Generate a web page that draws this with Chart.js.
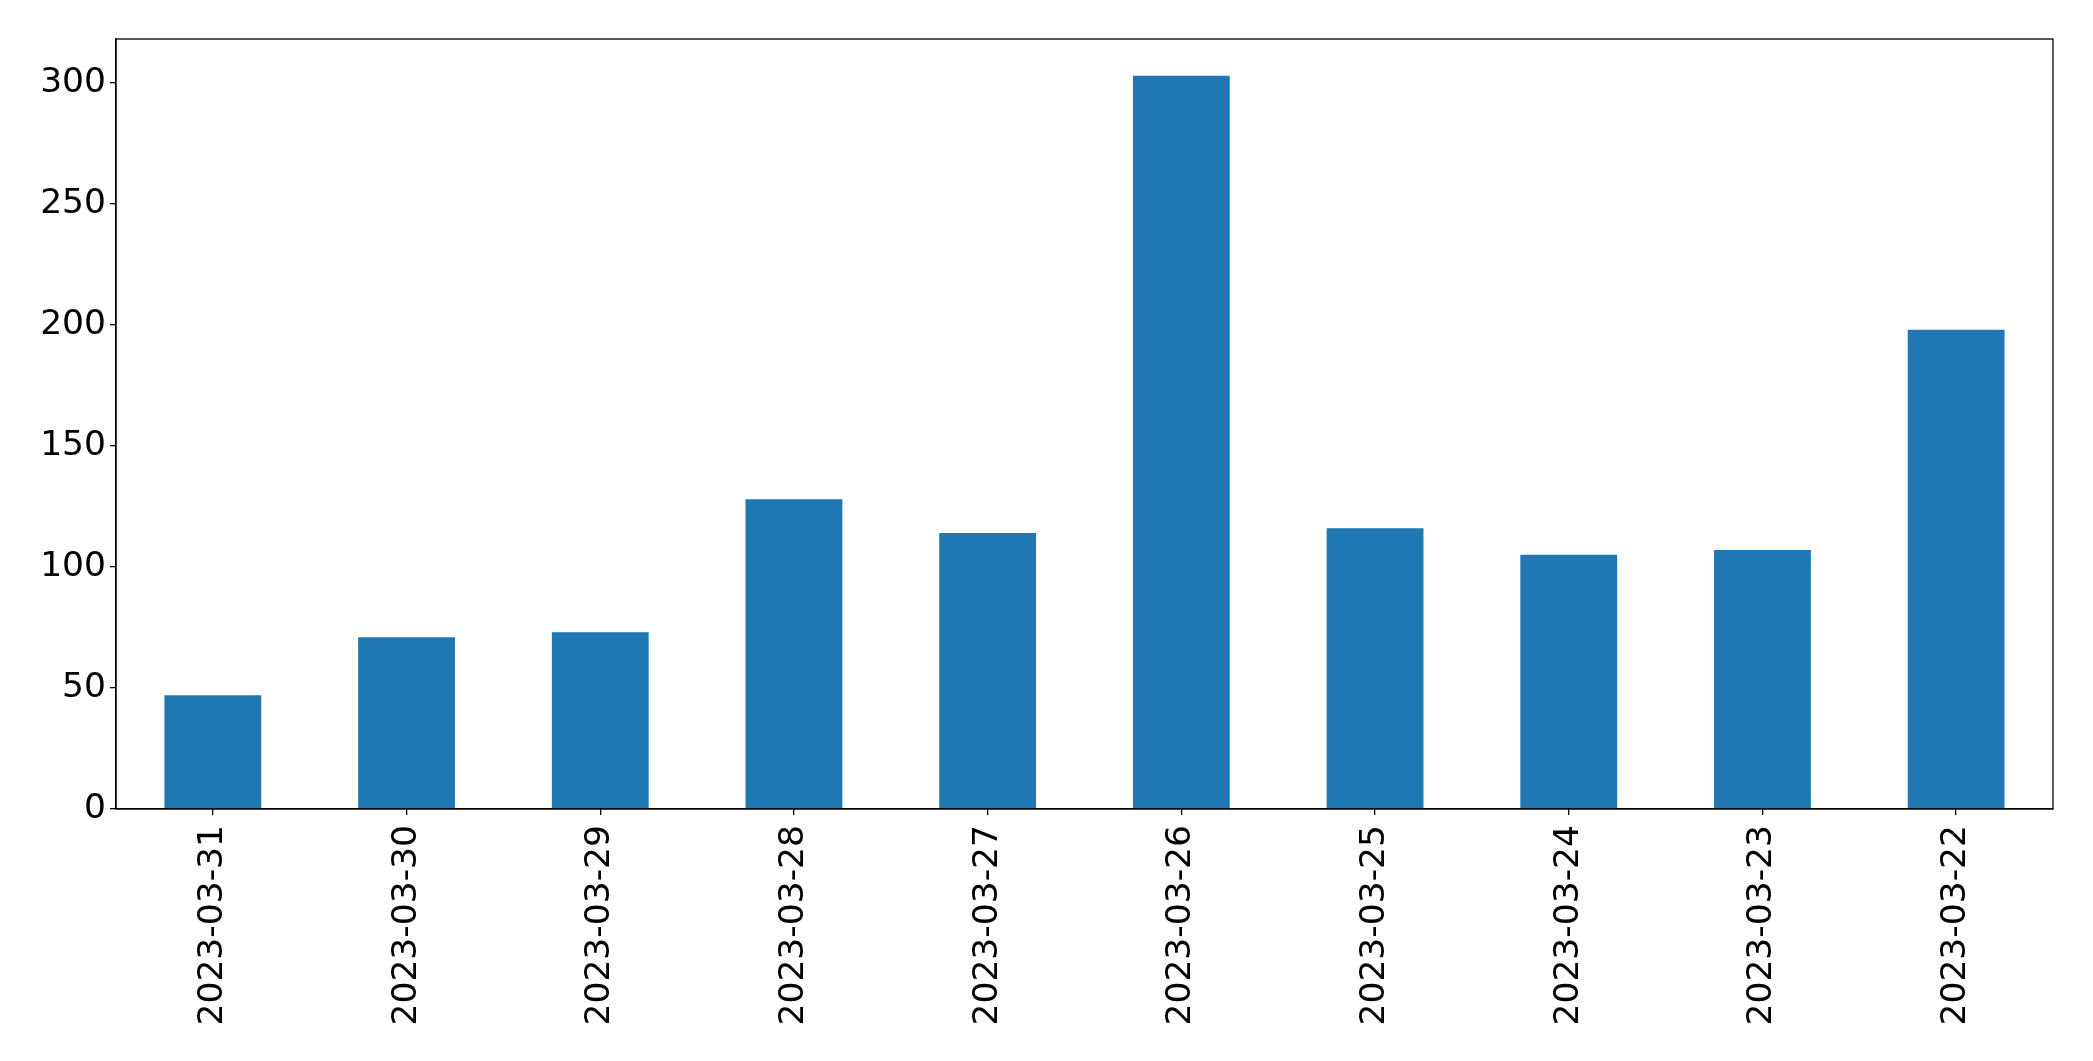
<!DOCTYPE html>
<html>
<head>
<meta charset="utf-8">
<script src="https://cdn.jsdelivr.net/npm/chart.js@4/dist/chart.umd.min.js"></script>
<style>
  body { margin: 0; background: #fff; }
  #wrap { width: 2093px; height: 1061px; }
</style>
</head>
<body>
<div id="wrap"><canvas id="barChart" width="2093" height="1061"></canvas></div>
<script>
// dados
const dias = ['2023-03-31', '2023-03-30', '2023-03-29', '2023-03-28', '2023-03-27',
              '2023-03-26', '2023-03-25', '2023-03-24', '2023-03-23', '2023-03-22'];
const contagens = [47, 71, 73, 128, 114, 303, 116, 105, 107, 198];
const ticksY = [0, 50, 100, 150, 200, 250, 300];

const fonte = { family: 'DejaVu Sans', size: 34.5 };

// moldura preta em volta da área do gráfico
const moldura = {
  id: 'moldura',
  afterDraw(chart) {
    const { ctx, chartArea: a } = chart;
    ctx.save();
    ctx.strokeStyle = '#000';
    ctx.lineWidth = 1.3;
    ctx.strokeRect(a.left, a.top, a.right - a.left, a.bottom - a.top);
    ctx.restore();
  }
};

const ctx = document.getElementById('barChart').getContext('2d');
new Chart(ctx, {
  type: 'bar',
  data: {
    labels: dias,
    datasets: [{
      data: contagens,
      backgroundColor: '#1f77b4',
      barPercentage: 0.5,
      categoryPercentage: 1.0
    }]
  },
  options: {
    responsive: false,
    animation: false,
    layout: { padding: { top: 39, right: 40, left: 0, bottom: 0 } },
    plugins: { legend: { display: false }, tooltip: { enabled: false } },
    scales: {
      x: {
        afterFit: (s) => { s.height = 252; },
        grid: { offset: false, drawOnChartArea: false, drawTicks: true, tickLength: 6, color: '#000', lineWidth: 1.3 },
        border: { display: true, color: '#000', width: 1.3 },
        ticks: { color: '#000', font: fonte, minRotation: 90, maxRotation: 90, padding: 10, autoSkip: false }
      },
      y: {
        min: 0,
        max: 318.15,
        afterFit: (s) => { s.width = 116; },
        afterBuildTicks: (s) => { s.ticks = ticksY.map(v => ({ value: v })); },
        grid: { drawOnChartArea: false, drawTicks: true, tickLength: 6, color: '#000', lineWidth: 1.3 },
        border: { display: true, color: '#000', width: 1.3 },
        ticks: { color: '#000', font: fonte, padding: 4 }
      }
    }
  },
  plugins: [moldura]
});
</script>
</body>
</html>
